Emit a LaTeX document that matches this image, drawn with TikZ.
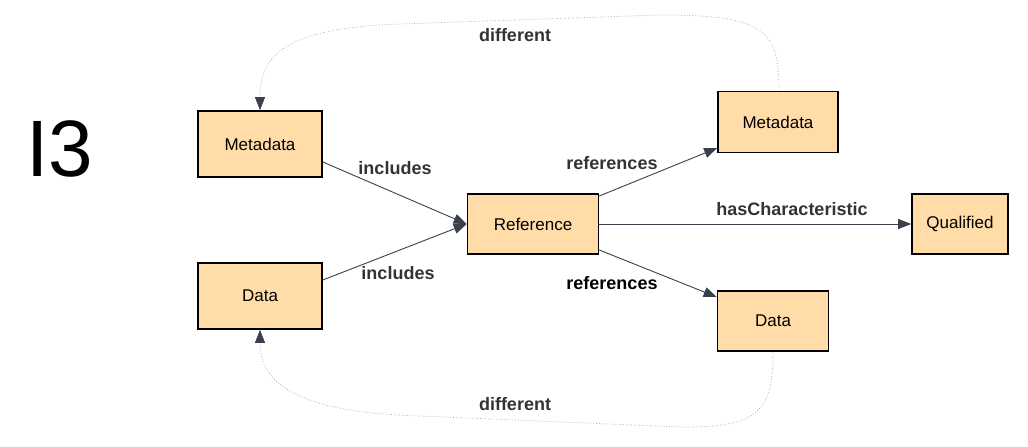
\documentclass[tikz,border=0pt]{standalone}
\usepackage{fontspec}
\setmainfont{Liberation Sans}
\usetikzlibrary{arrows.meta}
\definecolor{boxfill}{HTML}{FFDCA8}
\definecolor{edgecol}{HTML}{3A404B}
\definecolor{labcol}{HTML}{333333}
\tikzset{
  box/.style={draw=black, line width=1.6pt, fill=boxfill, inner sep=0pt, font=\fontsize{17}{20}\selectfont},
  rel/.style={draw=edgecol, line width=0.9pt, -{Triangle[length=13pt,width=10pt]}},
  diff/.style={draw=gray!75, line width=0.7pt, dotted, -{Triangle[length=13pt,width=10pt,color=edgecol,fill=edgecol]}},
  lab/.style={font=\bfseries\fontsize{18}{21}\selectfont, text=labcol, inner sep=1pt},
}
\begin{document}
\begin{tikzpicture}[x=1pt,y=-1pt]
\useasboundingbox (0,0) rectangle (1028,447);
\node[font=\fontsize{80}{90}\selectfont] (title) at (60,149) {I3};
\node[box, minimum width=124pt, minimum height=66pt] (md1) at (260,144) {Metadata};
\node[box, minimum width=124pt, minimum height=66pt] (da1) at (260,296) {Data};
\node[box, minimum width=131pt, minimum height=60pt] (ref) at (533,224) {Reference};
\node[box, minimum width=120pt, minimum height=61pt] (md2) at (778,122) {Metadata};
\node[box, minimum width=96pt, minimum height=60pt] (qual) at (960,224) {Qualified};
\node[box, minimum width=111pt, minimum height=60pt] (da2) at (773,321) {Data};

\draw[rel] ([yshift=-18pt]md1.east) -- (ref.west);
\draw[rel] ([yshift=16pt]da1.east) -- (ref.west);
\draw[rel] ([yshift=28pt]ref.east) -- ([yshift=-26pt]md2.west);
\draw[rel] (ref.east) -- (qual.west);
\draw[rel] ([yshift=-26pt]ref.east) -- ([yshift=24pt]da2.west);

\node[lab] (l1) at (395,168) {includes};
\node[lab] (l2) at (398,273) {includes};
\node[lab] (l3) at (612,163) {references};
\node[lab, text=black] (l4) at (612,283) {references};
\node[lab] (l5) at (792,209) {hasCharacteristic};

\draw[diff] ([xshift=1pt]md2.north) .. controls (779,30) and (765,15) .. (660,15)
  -- (400,24) .. controls (285,28) and (260,55) .. (md1.north);
\draw[diff] (da2.south) .. controls (773,410) and (760,428) .. (680,427)
  -- (420,416) .. controls (290,412) and (260,380) .. (da1.south);

\node[lab] (d1) at (515,35) {different};
\node[lab] (d2) at (515,404) {different};
\end{tikzpicture}
\end{document}
